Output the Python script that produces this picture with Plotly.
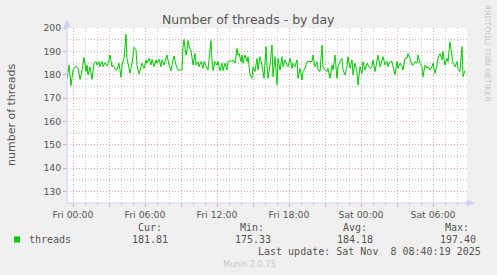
import pandas as pd
import plotly.graph_objects as go

# ---- data (minutes after Fri 2025-11-07 00:00, thread count) ----
MINUTES = [
    -30, -20, -10, 0, 15, 25, 35, 45, 55, 65, 70, 75, 85, 95, 105, 115, 120, 130, 135, 145,
    150, 160, 170, 175, 185, 195, 200, 215, 220, 230, 240, 245, 255, 265, 270, 280, 285, 295, 305, 315,
    320, 330, 340, 345, 355, 365, 370, 380, 390, 395, 405, 415, 420, 430, 440, 445, 455, 465, 470, 480,
    490, 500, 505, 515, 525, 535, 545, 550, 555, 565, 570, 575, 585, 590, 600, 610, 615, 625, 630, 640,
    650, 655, 665, 675, 680, 690, 695, 700, 710, 720, 725, 735, 745, 750, 760, 770, 775, 785, 795, 800,
    810, 820, 825, 830, 840, 845, 850, 860, 870, 875, 885,
    895, 900, 910, 920, 925, 935, 945, 955, 965, 970, 975, 985, 995, 1000, 1010, 1020, 1025, 1035, 1045, 1050,
    1060, 1070, 1075, 1085, 1095, 1100, 1110, 1120, 1125, 1135, 1145, 1150, 1160, 1170, 1185, 1195, 1200, 1210, 1220, 1225,
    1235, 1245, 1250, 1260, 1270, 1275, 1285, 1295, 1300, 1310, 1320, 1325, 1335, 1345, 1350, 1360, 1370, 1375, 1385, 1395,
    1400, 1410, 1420, 1425, 1435, 1445, 1450, 1460, 1470, 1475, 1485, 1495, 1500, 1510, 1520, 1525, 1535, 1545, 1550, 1560,
    1570, 1575, 1585, 1595, 1600, 1610, 1620, 1625, 1635, 1645, 1650, 1660, 1670, 1675, 1685, 1695, 1700, 1710, 1720, 1725,
    1735, 1745, 1750, 1760, 1770, 1775, 1785, 1795, 1800, 1810, 1820, 1825, 1835, 1845, 1850, 1860, 1870, 1875, 1885, 1895,
    1900, 1910, 1920, 1925, 1935, 1945, 1950, 1960,
]
THREADS = [
    178.0, 184.1, 175.33, 182.0, 183.7, 182.7, 178.0, 181.7, 187.4, 181.3, 184.1, 179.9, 183.4, 178.0, 184.9, 185.6, 184.1, 185.6, 183.4, 185.6,
    183.4, 185.1, 183.7, 184.9, 188.4, 183.4, 184.1, 182.0, 182.3, 184.9, 178.9, 184.1, 187.0, 197.4, 187.0, 183.4, 180.6, 184.9, 191.7, 190.6,
    184.1, 180.3, 184.1, 184.9, 182.7, 186.3, 184.9, 187.0, 184.1, 186.6, 183.4, 186.3, 184.9, 186.6, 183.4, 186.3, 184.1, 187.0, 188.4, 184.1,
    181.7, 186.3, 188.0, 184.1, 182.0, 182.0, 182.0, 192.0, 195.1, 188.4, 190.6, 194.6, 190.9, 190.6, 184.1, 189.1, 184.1, 185.6, 183.4, 185.6,
    182.7, 185.6, 183.4, 182.0, 186.3, 194.6, 186.3, 181.7, 185.6, 184.1, 185.6, 181.7, 184.9, 181.7, 184.9, 182.0, 185.6, 186.0, 185.6, 186.3,
    184.9, 191.3, 188.4, 189.1, 185.6, 188.4, 184.9, 188.4, 185.6, 187.7, 179.9,
    178.4, 183.4, 181.3, 187.0, 182.0, 187.7, 184.1, 178.4, 192.0, 184.1, 178.4, 184.1, 192.7, 179.1, 187.7, 175.6, 187.0, 182.0, 187.7, 183.4,
    186.3, 184.1, 183.4, 187.0, 182.7, 184.9, 183.4, 186.3, 178.4, 182.7, 177.7, 181.3, 182.7, 185.6, 185.6, 185.6, 188.4, 183.4, 185.6, 182.0,
    181.3, 192.7, 183.4, 182.0, 181.3, 182.7, 178.4, 184.1, 182.0, 188.4, 178.4, 183.4, 185.6, 187.0, 182.0, 179.9, 183.4, 187.7, 182.7, 186.3,
    179.9, 184.9, 181.3, 175.6, 183.4, 180.6, 185.6, 182.0, 184.9, 184.1, 182.7, 183.4, 186.3, 181.3, 187.0, 188.4, 183.4, 186.3, 187.7, 184.1,
    185.6, 183.4, 185.6, 185.6, 183.4, 179.9, 185.6, 182.7, 184.9, 183.4, 182.0, 187.0, 187.0, 189.1, 187.0, 184.1, 184.1, 185.6, 184.9, 188.4,
    184.9, 183.4, 179.1, 184.1, 182.7, 183.4, 182.0, 183.4, 184.9, 180.6, 184.1, 187.0, 189.1, 186.3, 189.9, 184.1, 187.0, 185.6, 194.1, 187.0,
    184.9, 183.4, 185.6, 182.7, 181.3, 192.0, 179.1, 181.81,
]

BASE_TIME = "2025-11-07 00:00"
X_RANGE_MIN = [-30, 1970]
Y_RANGE = [125, 200]
Y_TICKS = [130, 140, 150, 160, 170, 180, 190, 200]
Y_MINOR = [135, 145, 155, 165, 175, 185, 195]
X_TICK_MINUTES = [0, 180, 360, 540, 720, 900, 1080, 1260, 1440, 1620, 1800]
X_TICK_LABELS = ["Fri 00:00", "", "Fri 06:00", "", "Fri 12:00", "", "Fri 18:00", "",
                 "Sat 00:00", "", "Sat 06:00"]

SERIES_NAME = "threads"
STAT_NAMES = ["Cur:", "Min:", "Avg:", "Max:"]
STAT_VALUES = ["181.81", "175.33", "184.18", "197.40"]
TITLE = "Number of threads - by day"
Y_TITLE = "number of threads"
LAST_UPDATE = "Last update: Sat Nov \u00a08 08:40:19 2025"

base = pd.Timestamp(BASE_TIME)
times = [base + pd.Timedelta(minutes=m) for m in MINUTES]
xr = [base + pd.Timedelta(minutes=m) for m in X_RANGE_MIN]
xtv = [base + pd.Timedelta(minutes=m) for m in X_TICK_MINUTES]
# hourly minor grid positions (excluding major 3-hour positions)
x_minor = [base + pd.Timedelta(hours=h) for h in range(0, 33) if h % 3 != 0]

W, H = 497, 275
L, T, PW, PH = 67, 28, 400, 175
B = T + PH


def px(x):
    return (x - L) / PW


def py(y):
    return (B - y) / PH


TXT = "#555555"
MAJ = "#e8a0a0"
MIN = "#c8c8c8"
MIN_H = "#b4b4b4"
AX = "#c8d0f8"
GREEN = "#00cc00"

fig = go.Figure()
# horizontal minor grid drawn as faint dotted guide lines at every 5 threads
for v in Y_MINOR:
    fig.add_trace(go.Scatter(x=xr, y=[v, v], mode="lines",
                             line=dict(color=MIN_H, width=1, dash="1px,2px"),
                             showlegend=False, hoverinfo="skip"))
fig.add_trace(go.Scatter(x=times, y=THREADS, mode="lines",
                         line=dict(color=GREEN, width=1), name=SERIES_NAME,
                         showlegend=False, hoverinfo="skip"))

fig.update_layout(
    width=W, height=H, autosize=False,
    margin=dict(l=L, r=W - L - PW, t=T, b=H - B, pad=0),
    paper_bgcolor="#f0f0f0", plot_bgcolor="#ffffff",
    showlegend=False,
    font=dict(family="DejaVu Sans", size=9, color=TXT),
)
fig.update_xaxes(
    type="date", range=xr, tickmode="array", tickvals=xtv, ticktext=X_TICK_LABELS,
    showgrid=True, gridcolor=MAJ, griddash="1px,2px", gridwidth=1,
    ticks="outside", ticklen=3, tickcolor=MAJ, tickwidth=1,
    showline=False, zeroline=False,
    tickfont=dict(family="DejaVu Sans", size=9.3, color=TXT),
    minor=dict(tickmode="array", tickvals=x_minor, showgrid=True, gridcolor=MIN,
               griddash="1px,2px", gridwidth=1, ticks="outside", ticklen=2,
               tickcolor=MIN),
    fixedrange=True,
)
fig.update_yaxes(
    range=Y_RANGE, tickmode="array", tickvals=Y_TICKS,
    showgrid=True, gridcolor=MAJ, griddash="1px,2px", gridwidth=1,
    ticks="outside", ticklen=3, tickcolor=MAJ, tickwidth=1,
    showline=False, zeroline=False,
    tickfont=dict(family="DejaVu Sans", size=9.3, color=TXT),
    fixedrange=True,
)

shapes = []
# axes with arrows
shapes.append(dict(type="line", xref="paper", yref="paper", x0=0, x1=0,
                   y0=0, y1=py(22), line=dict(color=AX, width=1), layer="above"))
shapes.append(dict(type="line", xref="paper", yref="paper", x0=0, x1=px(472),
                   y0=0, y1=0, line=dict(color=AX, width=1), layer="above"))
shapes.append(dict(type="path", xref="paper", yref="paper",
                   path=f"M {px(64)},{py(27)} L {px(67)},{py(20)} L {px(70)},{py(27)} Z",
                   fillcolor=AX, line=dict(color=AX, width=0.5), layer="above"))
shapes.append(dict(type="path", xref="paper", yref="paper",
                   path=f"M {px(467)},{py(200)} L {px(474)},{py(203)} L {px(467)},{py(206)} Z",
                   fillcolor=AX, line=dict(color=AX, width=0.5), layer="above"))
# legend swatch
shapes.append(dict(type="rect", xref="paper", yref="paper",
                   x0=px(14), x1=px(20), y0=py(242.5), y1=py(236.5),
                   fillcolor=GREEN, line=dict(width=0)))
fig.update_layout(shapes=shapes)

MONO = "DejaVu Sans Mono"
ann = []


def add(text, x, y, xa="left", ya="middle", size=10, family=MONO, color=TXT, angle=0):
    ann.append(dict(text=text, x=px(x), y=py(y), xref="paper", yref="paper",
                    xanchor=xa, yanchor=ya, showarrow=False, textangle=angle,
                    font=dict(family=family, size=size, color=color)))


add(TITLE, 248, 19, xa="center", size=12.5, family="DejaVu Sans", color=TXT)
add(Y_TITLE, 11, 114, xa="center", size=11, family="DejaVu Sans", color=TXT, angle=-90)
add("RRDTOOL/ TOBI OETIKER", 488, 53, xa="center", size=7.7, family="DejaVu Sans",
    color="#c8c8c8", angle=90)
add(SERIES_NAME, 26.5, 239.5)
stat_right = [170, 272.5, 375, 477.5]
for name, val, xr_ in zip(STAT_NAMES, STAT_VALUES, stat_right):
    add(name, xr_ - 6.5, 227.5, xa="right")
    add(val, xr_, 239.5, xa="right")
add(LAST_UPDATE, 482.5, 251.5, xa="right")
add("Munin 2.0.73", 249, 264.5, xa="center", size=8, family="DejaVu Sans", color="#c8c8c8")
fig.update_layout(annotations=ann)

fig.write_html("out.html", config={"displayModeBar": False})
